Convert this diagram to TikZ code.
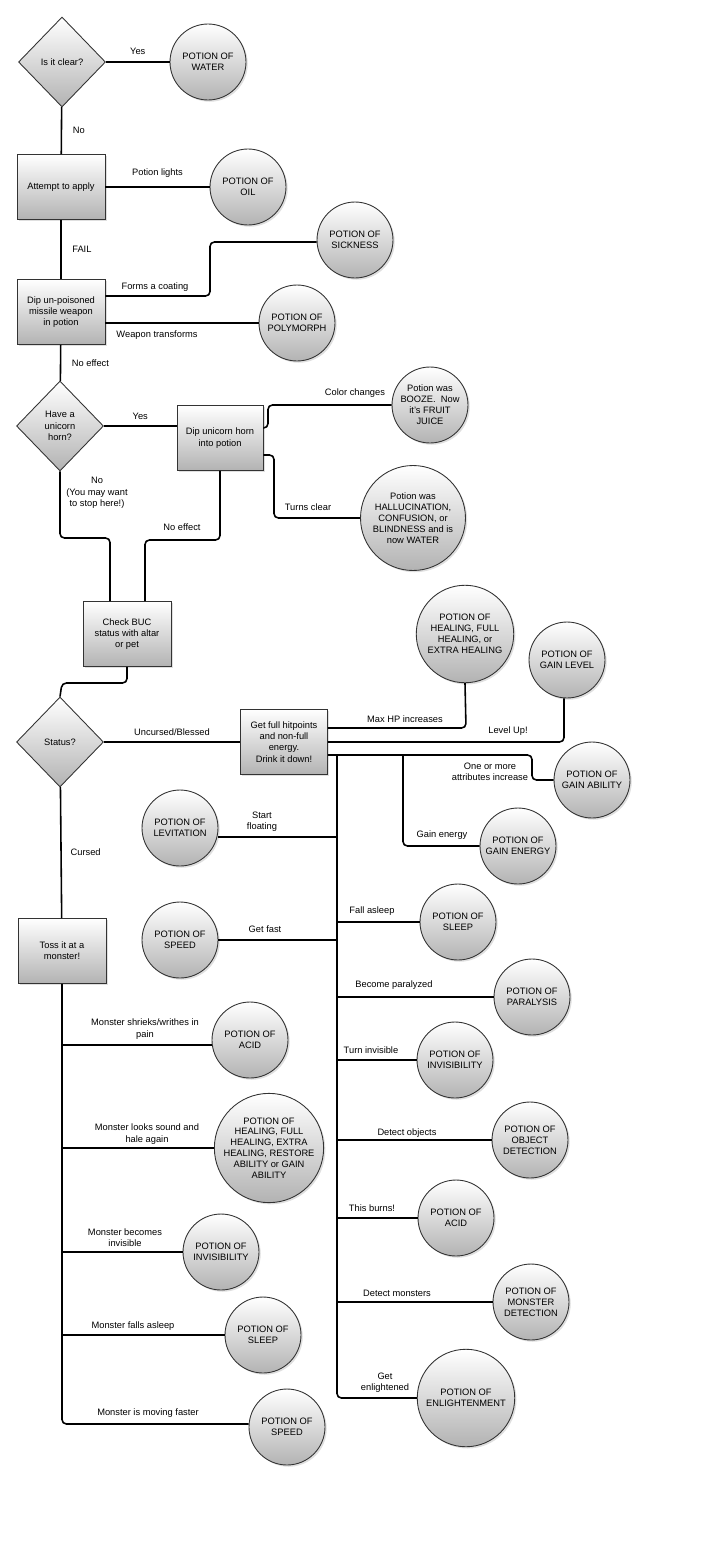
\documentclass[tikz,border=0pt]{standalone}
\usepackage{fontspec}
\setmainfont{Liberation Sans}
\usetikzlibrary{shapes.geometric,shadows}
\tikzset{
  potion/.style={circle,draw=black!80,line width=0.5pt,top color=white,bottom color=black!30,
    drop shadow={opacity=0.25,shadow xshift=1pt,shadow yshift=-1pt},
    minimum size=1.52cm,inner sep=0pt,align=center,font=\fontsize{5.3}{6.2}\selectfont},
  bigpotion/.style={potion,minimum size=2.0cm},
  stage/.style={rectangle,draw=black!80,line width=0.5pt,top color=white,bottom color=black!30,
    drop shadow={opacity=0.25,shadow xshift=1pt,shadow yshift=-1pt},
    minimum width=1.76cm,minimum height=1.3cm,inner sep=1pt,align=center,font=\fontsize{5.3}{6.4}\selectfont},
  ask/.style={diamond,draw=black!80,line width=0.5pt,top color=white,bottom color=black!30,
    minimum width=1.74cm,minimum height=1.8cm,inner sep=0pt,align=center,font=\fontsize{5.3}{6.4}\selectfont},
  lbl/.style={align=center,inner sep=0pt,font=\fontsize{5.3}{6.4}\selectfont},
  wire/.style={line width=0.9pt,rounded corners=2.5pt}
}
\begin{document}
\begin{tikzpicture}[x=0.02cm,y=-0.02cm]
  \useasboundingbox (0,0) rectangle (720,1555);
  %%%%% TOP %%%%%
  \node[ask] (clear) at (62,62) {Is it clear?};
  \node[potion] (water) at (208,62) {POTION OF\\WATER};
  \node[stage] (apply) at (61,187) {Attempt to apply};
  \node[potion] (oil) at (248,187) {POTION OF\\OIL};
  \node[stage] (dip) at (61,312) {Dip un-poisoned\\missile weapon\\in potion};
  \node[potion] (sick) at (355,240) {POTION OF\\SICKNESS};
  \node[potion] (poly) at (297,323) {POTION OF\\POLYMORPH};
  \node[ask] (horn) at (60,426) {Have a\\unicorn\\horn?};
  \node[stage,minimum width=1.72cm] (hdip) at (220,438) {Dip unicorn horn\\into potion};
  \node[potion] (booze) at (430,405) {Potion was\\BOOZE.\ \ Now\\it's FRUIT\\JUICE};
  \node[bigpotion,minimum size=2.1cm] (clearw) at (413,518) {Potion was\\HALLUCINATION,\\CONFUSION, or\\BLINDNESS and is\\now WATER};
  \node[stage] (buc) at (127,634) {Check BUC\\status with altar\\or pet};
  \node[ask] (status) at (60,742) {Status?};
  \node[stage,minimum width=1.74cm] (drink) at (284,742) {Get full hitpoints\\and non-full\\energy.\\Drink it down!};

  \draw[wire] (clear) -- (water) node[lbl,midway,above=4pt] {Yes};
  \draw[wire] (clear) -- (apply) node[lbl,midway,right=6pt] {No};
  \draw[wire] (apply) -- (oil) node[lbl,midway,above=5pt] {Potion lights};
  \draw[wire] (apply) -- (dip) node[lbl,midway,right=6pt] {FAIL};
  \draw[wire] (dip.east |- 0,296) -- (210,296) -- (210,242) -- (sick.west |- 0,242);
  \node[lbl] at (155,287) {Forms a coating};
  \draw[wire] (dip.east |- poly) -- (poly);
  \node[lbl] at (157,335) {Weapon transforms};
  \draw[wire] (dip) -- (horn) node[lbl,midway,right=6pt] {No effect};
  \draw[wire] (horn) -- (hdip.west |- horn) node[lbl,midway,above=3pt] {Yes};
  \draw[wire] (hdip.east |- 0,428) -- (268,428) -- (268,405) -- (booze);
  \node[lbl] at (355,393) {Color changes};
  \draw[wire] (hdip.east |- 0,455) -- (274,455) -- (274,518) -- (clearw);
  \node[lbl] at (308,507) {Turns clear};
  \node[lbl] at (97,493) {No\\(You may want\\to stop here!)};
  \draw[wire] (horn.south) -- (60,538) -- (110,538) -- (buc.north -| 110,0);
  \draw[wire] (hdip.south) -- (220,540) -- (145,540) -- (buc.north -| 145,0);
  \node[lbl] at (182,527) {No effect};
  \draw[wire] (buc.south) -- (127,683) -- (62,683) -- (status.north);
  \draw[wire] (status) -- (drink) node[lbl,midway,above=3pt] {Uncursed/Blessed};

  %%%%% BLESSED BRANCH %%%%%
  \node[bigpotion,minimum size=1.95cm] (heal) at (465,634) {POTION OF\\HEALING, FULL\\HEALING, or\\EXTRA HEALING};
  \node[potion] (level) at (567,660) {POTION OF\\GAIN LEVEL};
  \node[potion] (abil) at (592,780) {POTION OF\\GAIN ABILITY};
  \node[potion] (energy) at (518,846) {POTION OF\\GAIN ENERGY};
  \node[potion] (levit) at (180,828) {POTION OF\\LEVITATION};
  \node[potion] (speed) at (180,940) {POTION OF\\SPEED};
  \node[potion] (sleep) at (458,922) {POTION OF\\SLEEP};
  \node[potion] (para) at (532,997) {POTION OF\\PARALYSIS};
  \node[potion] (invis) at (455,1060) {POTION OF\\INVISIBILITY};
  \node[potion] (objdet) at (530,1140) {POTION OF\\OBJECT\\DETECTION};
  \node[potion] (acid) at (456,1218) {POTION OF\\ACID};
  \node[potion] (mondet) at (531,1302) {POTION OF\\MONSTER\\DETECTION};
  \node[bigpotion,minimum size=1.95cm] (enl) at (466,1398) {POTION OF\\ENLIGHTENMENT};
  \coordinate (trunk) at (337,755);

  \draw[wire] (drink.east |- 0,728) -- (466,728) -- (heal.south);
  \node[lbl] at (405,719) {Max HP increases};
  \draw[wire] (drink.east |- 0,742) -- (564,742) -- (level.south -| 564,0);
  \node[lbl] at (508,731) {Level Up!};
  \draw[wire] (drink.east |- trunk) -- (532,755) -- (532,780) -- (abil);
  \node[lbl] at (490,772) {One or more\\attributes increase};
  \draw[wire] (403,755) -- (403,846) -- (energy);
  \node[lbl] at (442,835) {Gain energy};
  \draw[wire] (trunk) -- (trunk |- enl) -- (enl);
  \draw[wire] (levit.east |- 0,837) -- (337,837);
  \node[lbl] at (262,822) {Start\\floating};
  \draw[wire] (speed.east) -- (speed -| trunk);
  \node[lbl] at (265,929) {Get fast};
  \draw[wire] (sleep -| trunk) -- (sleep);
  \node[lbl] at (372,911) {Fall asleep};
  \draw[wire] (para -| trunk) -- (para);
  \node[lbl] at (394,985) {Become paralyzed};
  \draw[wire] (invis -| trunk) -- (invis);
  \node[lbl] at (371,1050) {Turn invisible};
  \draw[wire] (objdet -| trunk) -- (objdet);
  \node[lbl] at (407,1133) {Detect objects};
  \draw[wire] (acid -| trunk) -- (acid);
  \node[lbl] at (372,1208) {This burns!};
  \draw[wire] (mondet -| trunk) -- (mondet);
  \node[lbl] at (397,1293) {Detect monsters};
  \node[lbl] at (385,1383) {Get\\enlightened};

  %%%%% CURSED BRANCH %%%%%
  \node[stage] (toss) at (62,951) {Toss it at a\\monster!};
  \node[potion] (cacid) at (250,1040) {POTION OF\\ACID};
  \node[bigpotion,minimum size=2.08cm] (cheal) at (269,1148) {POTION OF\\HEALING, FULL\\HEALING, EXTRA\\HEALING, RESTORE\\ABILITY or GAIN\\ABILITY};
  \node[potion] (cinvis) at (221,1252) {POTION OF\\INVISIBILITY};
  \node[potion] (csleep) at (263,1335) {POTION OF\\SLEEP};
  \node[potion] (cspeed) at (287,1427) {POTION OF\\SPEED};
  \coordinate (ctrunk) at (62,1424);

  \draw[wire] (status) -- (toss) node[lbl,midway,right=5pt] {Cursed};
  \draw[wire] (toss.south) -- (ctrunk) -- (cspeed.west |- ctrunk);
  \node[lbl] at (148,1413) {Monster is moving faster};
  \draw[wire] (62,1045) -- (cacid.west |- 0,1045);
  \node[lbl] at (145,1029) {Monster shrieks/writhes in\\pain};
  \draw[wire] (62,1148) -- (cheal);
  \node[lbl] at (147,1134) {Monster looks sound and\\hale again};
  \draw[wire] (62,1252) -- (cinvis);
  \node[lbl] at (125,1238) {Monster becomes\\invisible};
  \draw[wire] (62,1335) -- (csleep);
  \node[lbl] at (133,1326) {Monster falls asleep};
\end{tikzpicture}
\end{document}
